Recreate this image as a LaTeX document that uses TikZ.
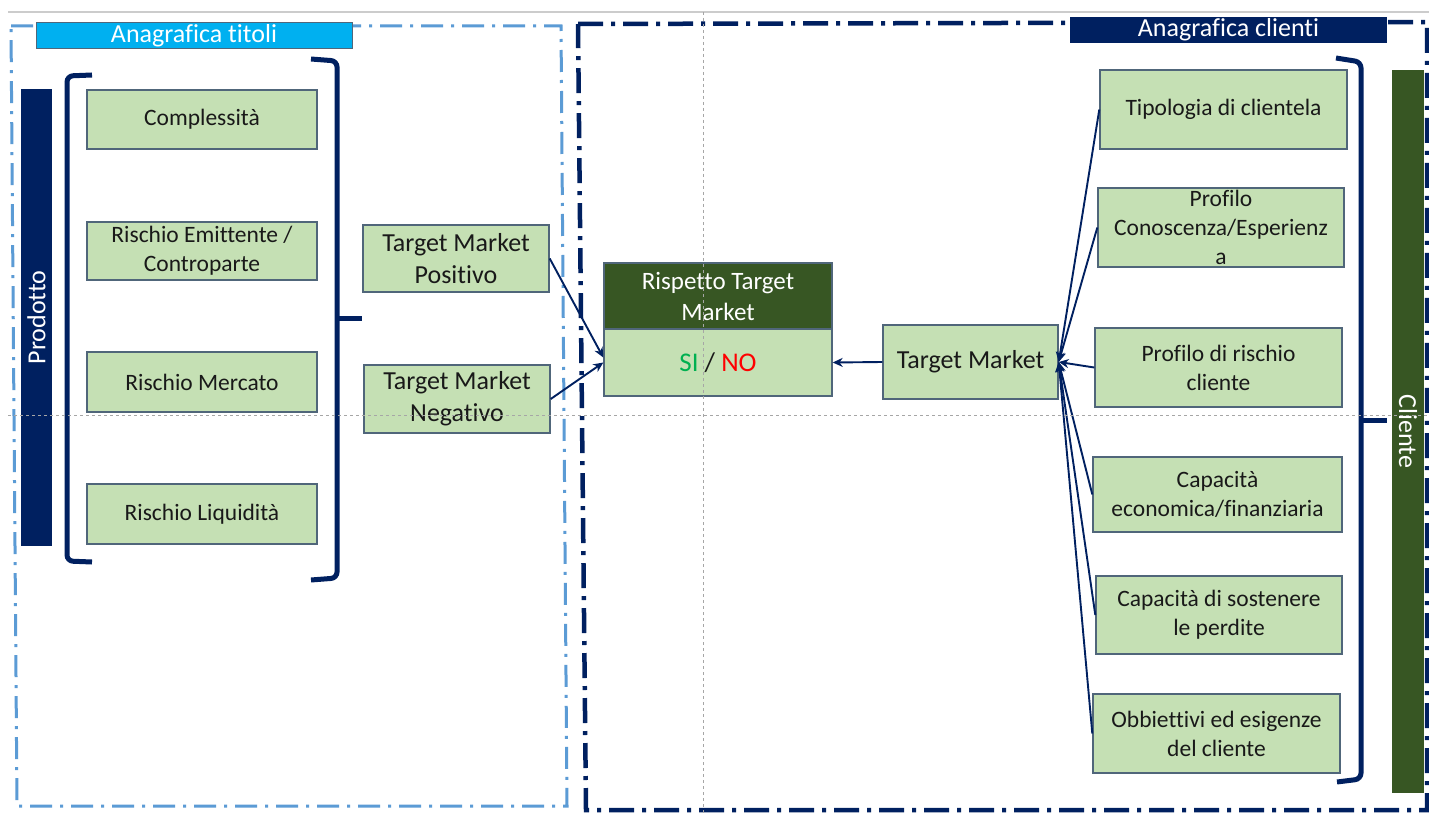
\documentclass[tikz,border=0pt]{standalone}
\usepackage{fontspec}
\setmainfont{Carlito}[Ligatures=NoCommon]
\usetikzlibrary{arrows.meta}
\definecolor{navy}{HTML}{002060}
\definecolor{ltblue}{HTML}{5B9BD5}
\definecolor{cyanlab}{HTML}{00B0F0}
\definecolor{boxfill}{HTML}{C5E0B4}
\definecolor{boxedge}{HTML}{50667A}
\definecolor{dkgreen}{HTML}{375623}
\definecolor{sigreen}{HTML}{00B050}
\definecolor{nored}{HTML}{FF0000}
\begin{document}
\begin{tikzpicture}[x=1pt,y=-1pt,
  gbox/.style={draw=boxedge, line width=1.4pt, fill=boxfill, inner sep=0pt, align=center,
    font=\fontsize{23.5}{29}\selectfont, text=black!90},
  tmbox/.style={gbox, font=\fontsize{26}{32}\selectfont},
  conn/.style={draw=navy, line width=1.9pt, -{Stealth[length=10pt,width=9pt]}},
  brk/.style={draw=navy, line width=5pt, rounded corners=6pt},
  lbdash/.style={draw=ltblue, line width=3pt, dash pattern=on 22pt off 8pt on 3pt off 8pt},
  nvdash/.style={draw=navy, line width=4.5pt, dash pattern=on 25pt off 8pt on 4pt off 8pt},
  guide/.style={draw=black!35, line width=0.9pt, dash pattern=on 3pt off 3pt},
  bar/.style={inner sep=0pt, text=white, font=\fontsize{26}{30}\selectfont},
  lab/.style={inner sep=0pt, text=white, font=\fontsize{26}{30}\selectfont}
]
\useasboundingbox[fill=white] (0,0) rectangle (1429,813);

% top grey rule
\draw[black!20, line width=2pt] (8,12) -- (1429,12);

% group frames
\draw[lbdash] (11,26) -- (561,26) -- (567,806) -- (17,806) -- cycle;
\draw[nvdash] (578,24) -- (1427,22) -- (1427,810) -- (586,810) -- cycle;

% group labels
\node[lab, fill=cyanlab, draw=boxedge, line width=1pt, minimum width=316, minimum height=26] (lab1) at (194,36) {Anagrafica titoli};
\node[lab, fill=navy, minimum width=317, minimum height=26] (lab2) at (1228.5,30) {Anagrafica clienti};

% side bars
\node[bar, fill=navy, rotate=90, minimum width=457, minimum height=31] (prod) at (36.5,317.5) {Prodotto};
\node[bar, fill=dkgreen, rotate=-90, minimum width=723, minimum height=32] (cli) at (1408,431.5) {Cliente};

% product boxes
\node[gbox, minimum width=230, minimum height=59] (c1) at (202,119.5) {Complessità};
\node[gbox, minimum width=230, minimum height=58] (c2) at (202,251) {Rischio Emittente /\\Controparte};
\node[gbox, minimum width=230, minimum height=60] (c3) at (202,382) {Rischio Mercato};
\node[gbox, minimum width=230, minimum height=60] (c4) at (202,514) {Rischio Liquidità};

% brackets
\draw[brk] (92,75) -- (67,76) -- (67,561) -- (92,562);
\draw[brk] (311,59) -- (337,61) -- (337,578) -- (311,580);
\draw[navy, line width=5pt] (337,318) -- (362,318);
\draw[brk] (1336,58) -- (1361,62) -- (1361,779) -- (1337,782);
\draw[navy, line width=5pt] (1361,420) -- (1387,420);

% target market positive / negative
\node[tmbox, minimum width=186, minimum height=67] (tmp) at (456,258.5) {Target Market\\Positivo};
\node[tmbox, minimum width=186, minimum height=68] (tmn) at (457,399) {Target Market\\Negativo};

% Rispetto target market
\node[draw=boxedge, line width=1.4pt, fill=dkgreen, text=white, inner sep=0pt, align=center,
  font=\fontsize{25}{31}\selectfont, minimum width=228, minimum height=66] (rh) at (718,296) {Rispetto Target\\Market};
\node[gbox, font=\fontsize{27}{32}\selectfont, minimum width=228, minimum height=67] (rs) at (718,362.5)
  {{\color{sigreen}SI} / {\color{nored}NO}};

% central target market
\node[tmbox, minimum width=175, minimum height=74] (tm) at (970.5,362) {Target Market};

% client boxes
\node[gbox, minimum width=247, minimum height=79] (k1) at (1223.5,109.5) {Tipologia di clientela};
\node[gbox, minimum width=246, minimum height=79] (k2) at (1221,227.5) {Profilo\\Conoscenza/Esperienz\\a};
\node[gbox, minimum width=247, minimum height=79] (k3) at (1218.5,367.5) {Profilo di rischio\\cliente};
\node[gbox, minimum width=249, minimum height=75] (k4) at (1217.5,494.5) {Capacità\\economica/finanziaria};
\node[gbox, minimum width=246, minimum height=78] (k5) at (1219,615) {Capacità di sostenere\\le perdite};
\node[gbox, minimum width=247, minimum height=79] (k6) at (1216.5,733.5) {Obbiettivi ed esigenze\\del cliente};

% connectors
\draw[conn] (tmp.east) -- ([yshift=5pt]rs.west);
\draw[conn] (tmn.east) -- (rs.west);
\draw[conn] (tm.west) -- (rs.east);
\foreach \k in {k1,k2,k3,k4,k5,k6}{
  \draw[conn] (\k.west) -- (tm.east);
}

% guides
\draw[guide] (703,12) -- (703,813);
\draw[guide] (8,415) -- (1429,415);
\end{tikzpicture}
\end{document}
